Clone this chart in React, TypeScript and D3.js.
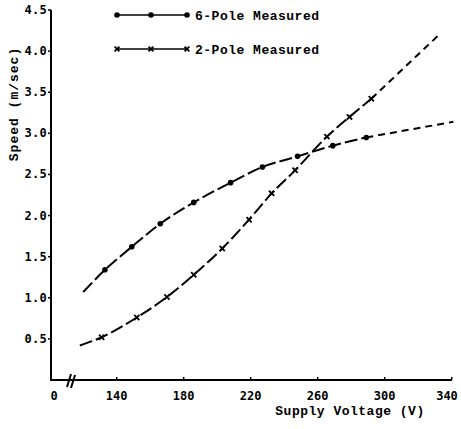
import React from "react";
import * as d3 from "d3";

// Measured points, 6-pole motor
const sixPoleVoltage = [133, 149, 166, 186, 208, 227, 248, 269, 289];
const sixPoleSpeed = [1.34, 1.62, 1.9, 2.16, 2.4, 2.59, 2.72, 2.85, 2.95];
const sixPoleCurveStart = [120, 1.07];
const sixPoleCurveEnd = [341, 3.14];

// Measured points, 2-pole motor
const twoPoleVoltage = [131, 152, 170, 186, 203, 219, 232.5, 246.5, 265.5, 279, 292];
const twoPoleSpeed = [0.52, 0.76, 1.01, 1.28, 1.6, 1.95, 2.27, 2.55, 2.96, 3.2, 3.42];
const twoPoleCurveStart = [118, 0.42];
const twoPoleCurveEnd = [332, 4.19];

const xTicks = [140, 180, 220, 260, 300, 340];
const yTicks = [0.5, 1.0, 1.5, 2.0, 2.5, 3.0, 3.5, 4.0, 4.5];

const legendLabels = ["6-Pole Measured", "2-Pole Measured"];

const W = 461;
const H = 429;
const originX = 51;
const originY = 380;

const x = d3.scaleLinear().domain([140, 340]).range([116.7, 451.7]);
const y = d3.scaleLinear().domain([0, 4.5]).range([originY, 10]);

const curve = d3
  .line<number[]>()
  .x((d) => x(d[0]))
  .y((d) => y(d[1]))
  .curve(d3.curveMonotoneX);

const titleFont = "'Liberation Mono', 'DejaVu Sans Mono', monospace";
const tickFont = "'DejaVu Sans Mono', monospace";

function XMark({ cx, cy, s = 2.6 }: { cx: number; cy: number; s?: number }) {
  return (
    <g stroke="#000" strokeWidth={1.8}>
      <line x1={cx - s} y1={cy - s} x2={cx + s} y2={cy + s} />
      <line x1={cx - s} y1={cy + s} x2={cx + s} y2={cy - s} />
    </g>
  );
}

export default function App() {
  const six = sixPoleVoltage.map((v, i) => [v, sixPoleSpeed[i]]);
  const two = twoPoleVoltage.map((v, i) => [v, twoPoleSpeed[i]]);

  const sixMeasured = curve([sixPoleCurveStart, ...six]) || "";
  const sixExt = curve([six[six.length - 1], sixPoleCurveEnd]) || "";
  const twoMeasured = curve([twoPoleCurveStart, ...two]) || "";
  const twoExt = curve([two[two.length - 1], twoPoleCurveEnd]) || "";

  const legendX = [117, 151, 187];

  return (
    <svg
      width={W}
      height={H}
      style={{ position: "absolute", left: 0, top: 0, background: "#fff" }}
    >
      {/* axes */}
      <g stroke="#000" strokeWidth={2} fill="none">
        <line x1={originX} y1={10} x2={originX} y2={originY + 1} />
        <line x1={originX - 1} y1={originY} x2={452} y2={originY} />
      </g>
      {/* axis break */}
      <g stroke="#000" strokeWidth={2}>
        <line x1={67} y1={387} x2={71} y2={374} />
        <line x1={71} y1={388} x2={75} y2={375} />
      </g>

      {/* y ticks */}
      {yTicks.map((t) => (
        <g key={"y" + t}>
          <line x1={originX - 3} x2={originX} y1={y(t)} y2={y(t)} stroke="#000" strokeWidth={1.5} />
          <text
            x={47}
            y={y(t) + 4}
            textAnchor="end"
            fontFamily={tickFont}
            fontWeight="bold"
            fontSize={12}
            letterSpacing={0.3}
          >
            {t.toFixed(1)}
          </text>
        </g>
      ))}

      {/* x ticks */}
      <text x={54} y={400} textAnchor="middle" fontFamily={tickFont} fontWeight="bold" fontSize={12}>
        0
      </text>
      {xTicks.map((t) => (
        <g key={"x" + t}>
          <line x1={x(t)} x2={x(t)} y1={originY - 3} y2={originY} stroke="#000" strokeWidth={1.5} />
          <text
            x={Math.min(x(t), W - 14)}
            y={400}
            textAnchor="middle"
            fontFamily={tickFont}
            fontWeight="bold"
            fontSize={12}
          >
            {t}
          </text>
        </g>
      ))}

      {/* axis titles */}
      <text
        x={350}
        y={415}
        textAnchor="middle"
        fontFamily={titleFont}
        fontWeight="bold"
        fontSize={13}
        letterSpacing={0.5}
      >
        Supply Voltage (V)
      </text>
      <text
        transform="translate(18,104) rotate(-90)"
        textAnchor="middle"
        fontFamily={titleFont}
        fontWeight="bold"
        fontSize={13}
        letterSpacing={1}
      >
        Speed (m/sec)
      </text>

      {/* curves */}
      <g fill="none" stroke="#000" strokeWidth={2}>
        <path d={sixMeasured} strokeDasharray="13,4" />
        <path d={sixExt} strokeDasharray="7,5" />
        <path d={twoMeasured} strokeDasharray="13,4" />
        <path d={twoExt} strokeDasharray="7,5" />
      </g>
      {six.map((d, i) => (
        <circle key={"c" + i} cx={x(d[0])} cy={y(d[1])} r={2.8} fill="#000" />
      ))}
      {two.map((d, i) => (
        <XMark key={"m" + i} cx={x(d[0])} cy={y(d[1])} />
      ))}

      {/* legend */}
      <line x1={legendX[0]} x2={legendX[2]} y1={15} y2={15} stroke="#000" strokeWidth={1.5} />
      {legendX.map((lx) => (
        <circle key={"lc" + lx} cx={lx} cy={15} r={2.8} fill="#000" />
      ))}
      <text x={195} y={19.5} fontFamily={titleFont} fontWeight="bold" fontSize={13} letterSpacing={0.5}>
        {legendLabels[0]}
      </text>
      <line x1={legendX[0]} x2={legendX[2]} y1={49} y2={49} stroke="#000" strokeWidth={1.5} />
      {legendX.map((lx) => (
        <XMark key={"lm" + lx} cx={lx} cy={49} s={2.4} />
      ))}
      <text x={195} y={53.5} fontFamily={titleFont} fontWeight="bold" fontSize={13} letterSpacing={0.5}>
        {legendLabels[1]}
      </text>
    </svg>
  );
}
